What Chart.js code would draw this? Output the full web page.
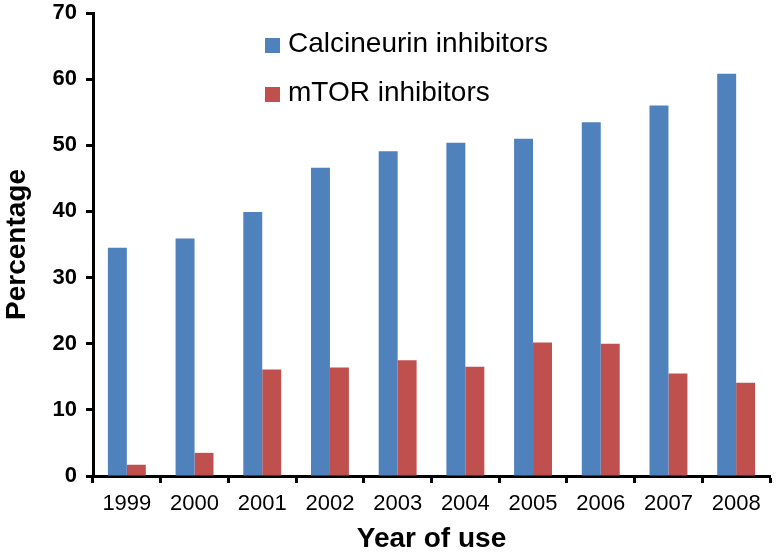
<!DOCTYPE html>
<html>
<head>
<meta charset="utf-8">
<script src="https://cdn.jsdelivr.net/npm/chart.js@4.4.1/dist/chart.umd.min.js"></script>
<style>
  html, body { margin: 0; padding: 0; background: #fff; }
  #wrap { width: 776px; height: 558px; position: relative; }
</style>
</head>
<body>
<div id="wrap"><canvas id="grafico"></canvas></div>
<script>
// dados
const anos = ['1999', '2000', '2001', '2002', '2003', '2004', '2005', '2006', '2007', '2008'];
const calcineurina = [34.5, 35.9, 39.9, 46.6, 49.1, 50.4, 51.0, 53.5, 56.0, 60.8];
const mtor = [1.7, 3.5, 16.1, 16.4, 17.5, 16.5, 20.2, 20.0, 15.5, 14.1];
const yTicks = [0, 10, 20, 30, 40, 50, 60, 70];

const FONTE = "'Liberation Sans', Arial, Helvetica, sans-serif";
const AZUL = '#4F81BD';
const VERMELHO = '#C0504D';

// legenda desenhada dentro da área do gráfico
const legendaInterna = {
  id: 'legendaInterna',
  afterDraw(chart) {
    const ctx = chart.ctx;
    ctx.save();
    ctx.font = `28px ${FONTE}`;
    ctx.textBaseline = 'alphabetic';
    ctx.textAlign = 'left';
    const linhas = [52, 101];
    chart.data.datasets.forEach((ds, i) => {
      const y = linhas[i];
      ctx.fillStyle = ds.backgroundColor;
      ctx.fillRect(265, y - 14, 15, 15);
      ctx.fillStyle = '#000';
      ctx.fillText(ds.label, 288, y);
    });
    ctx.restore();
  },
};

new Chart(document.getElementById('grafico'), {
  type: 'bar',
  data: {
    labels: anos,
    datasets: [
      {
        label: 'Calcineurin inhibitors',
        data: calcineurina,
        backgroundColor: AZUL,
        categoryPercentage: 0.56,
        barPercentage: 1.0,
      },
      {
        label: 'mTOR inhibitors',
        data: mtor,
        backgroundColor: VERMELHO,
        categoryPercentage: 0.56,
        barPercentage: 1.0,
      },
    ],
  },
  options: {
    responsive: true,
    maintainAspectRatio: false,
    animation: false,
    layout: { padding: { top: 13, right: 6, left: 0, bottom: 0 } },
    plugins: {
      legend: { display: false },
      tooltip: { enabled: false },
    },
    scales: {
      x: {
        grid: {
          offset: true,
          drawOnChartArea: false,
          drawTicks: true,
          tickLength: 7,
          tickWidth: 3,
          tickColor: '#000',
        },
        border: { display: true, color: '#000', width: 3 },
        ticks: {
          color: '#000',
          padding: 8,
          font: { family: FONTE, size: 22 },
        },
        title: {
          display: true,
          text: 'Year of use',
          color: '#000',
          padding: { top: 0, bottom: 2 },
          font: { family: FONTE, size: 28, weight: 'bold' },
        },
        afterFit(scale) { scale.height = 82; },
      },
      y: {
        min: 0,
        max: 70,
        afterBuildTicks(scale) { scale.ticks = yTicks.map((v) => ({ value: v })); },
        grid: {
          drawOnChartArea: false,
          drawTicks: true,
          tickLength: 7,
          tickWidth: 3,
          tickColor: '#000',
        },
        border: { display: true, color: '#000', width: 3 },
        ticks: {
          color: '#000',
          padding: 9,
          font: { family: FONTE, size: 22, weight: 'bold' },
        },
        title: {
          display: true,
          text: 'Percentage',
          color: '#000',
          padding: 0,
          font: { family: FONTE, size: 28, weight: 'bold' },
        },
        afterFit(scale) {
          scale.width = 93;
          scale.paddingTop = 0;
          scale.paddingBottom = 0;
        },
      },
    },
  },
  plugins: [legendaInterna],
});
</script>
</body>
</html>
